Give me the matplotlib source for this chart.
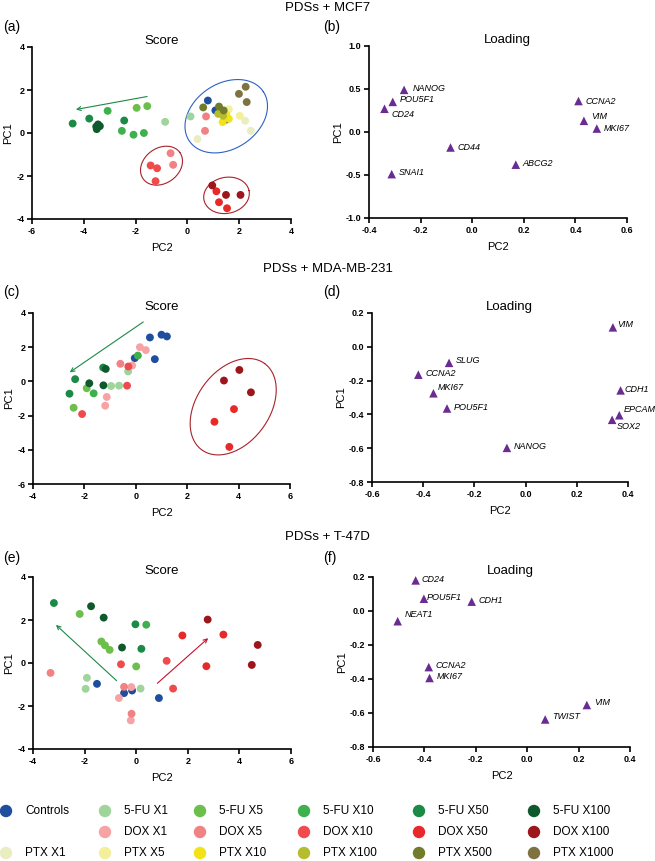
import numpy as np
import matplotlib
matplotlib.use('Agg')
from matplotlib import pyplot as plt

plt.rcParams['font.family'] = ['Liberation Sans', 'DejaVu Sans']
plt.rcParams['axes.unicode_minus'] = False

# groups and colours (legend order)
groups = ['Controls', '5-FU X1', '5-FU X5', '5-FU X10', '5-FU X50', '5-FU X100',
          'DOX X1', 'DOX X5', 'DOX X10', 'DOX X50', 'DOX X100',
          'PTX X1', 'PTX X5', 'PTX X10', 'PTX X100', 'PTX X500', 'PTX X1000']
group_colors = ['#1f4e9e', '#9fd49a', '#6cbf4a', '#3fb04e', '#1c8a47', '#0f5a2c',
                '#f7a3a6', '#f08283', '#ef4b4d', '#e8292a', '#9c161c',
                '#e9edbf', '#f4ef9b', '#f2e316', '#b5bd2e', '#727a2c', '#7e7240']

# (a) PDSs + MCF7 score
mcf7_grp = ['Controls'] * 3 + ['5-FU X1'] * 2 + ['5-FU X5'] * 2 + ['5-FU X10'] * 4 + ['5-FU X50'] * 3 + \
           ['5-FU X100'] * 4 + ['DOX X5'] * 4 + ['DOX X10'] * 3 + ['DOX X50'] * 3 + ['DOX X100'] * 3 + \
           ['PTX X1'] * 3 + ['PTX X5'] * 2 + ['PTX X10'] * 3 + ['PTX X100'] * 3 + ['PTX X500'] * 3 + ['PTX X1000'] * 3
mcf7_pc2 = [0.79, 1.08, 1.48, -0.86, 0.12, -1.96, -1.55, -3.08, -2.53, -2.08, -1.68, -4.43, -3.79, -2.44,
            -3.50, -3.38, -3.45, -3.52, 0.72, 0.68, -0.65, -0.55, -1.42, -1.17, -1.23, 1.12, 1.22, 1.53,
            0.96, 1.49, 2.05, 2.23, 2.45, 0.39, 1.60, 2.02, 1.60, 1.36, 1.50, 1.19, 1.38, 1.30,
            0.61, 1.22, 1.40, 1.99, 2.25, 2.29]
mcf7_pc1 = [1.51, 1.05, 0.62, 0.52, 0.77, 1.17, 1.25, 1.03, 0.10, -0.08, 0.00, 0.44, 0.67, 0.58,
            0.18, 0.32, 0.40, 0.30, 0.77, 0.10, -0.94, -1.48, -1.51, -1.64, -2.24, -2.71, -3.22, -3.50,
            -2.44, -2.88, -2.88, 0.57, 0.10, -0.28, 1.10, 0.80, 0.66, 0.51, 0.85, 0.89, 0.80, 0.95,
            1.19, 1.23, 1.05, 1.82, 2.15, 1.44]

# (c) PDSs + MDA-MB-231 score
mda_grp = ['Controls'] * 5 + ['5-FU X1'] * 3 + ['5-FU X5'] * 2 + ['5-FU X10'] * 2 + ['5-FU X50'] * 3 + \
          ['5-FU X100'] * 3 + ['DOX X1'] * 5 + ['DOX X5'] * 1 + ['DOX X10'] * 3 + ['DOX X50'] * 3 + ['DOX X100'] * 3
mda_pc2 = [0.55, 1.00, 1.21, 0.74, -0.04, -0.30, -0.96, -0.65, -1.91, -2.42, 0.08, -1.64,
           -1.27, -2.36, -2.58, -1.17, -1.81, -1.26, 0.16, 0.39, -0.14, -1.13, -1.19, -0.60,
           -0.29, -0.34, -2.09, 3.82, 3.06, 3.64, 3.43, 4.03, 4.48]
mda_pc1 = [2.57, 2.73, 2.63, 1.30, 1.36, 0.58, -0.27, -0.25, -0.40, -1.54, 1.51, -0.70,
           0.81, 0.13, -0.72, 0.73, -0.11, -0.23, 2.00, 1.83, 0.93, -0.91, -1.42, 1.03,
           0.87, -0.25, -1.91, -1.62, -2.36, -3.83, 0.05, 0.67, -0.64]

# (e) PDSs + T-47D score
t47d_grp = ['Controls'] * 4 + ['5-FU X1'] * 3 + ['5-FU X5'] * 5 + ['5-FU X10'] * 1 + ['5-FU X50'] * 3 + \
           ['5-FU X100'] * 3 + ['DOX X1'] * 3 + ['DOX X5'] * 3 + ['DOX X10'] * 3 + ['DOX X50'] * 3 + ['DOX X100'] * 3
t47d_pc2 = [-1.52, -0.47, -0.16, 0.88, -1.91, -1.96, 0.17, -2.19, -1.35, -1.21, -1.03, 0.00, 0.39,
            -3.19, 0.20, -0.03, -1.75, -1.26, -0.55, -0.19, -0.67, -0.21, -3.32, -0.18, -0.47,
            -0.59, 1.18, 1.43, 1.79, 3.38, 2.72, 2.77, 4.71, 4.48]
t47d_pc1 = [-0.97, -1.40, -1.28, -1.63, -0.69, -1.20, -1.19, 2.28, 1.00, 0.82, 0.61, -0.16, 1.78,
            2.79, 0.66, 1.80, 2.64, 2.11, 0.72, -1.12, -1.63, -2.67, -0.46, -2.36, -1.11,
            -0.06, 0.10, -1.19, 1.28, 1.32, -0.15, 2.02, 0.84, -0.09]

# loadings
mcf7_genes = ['NANOG', 'POU5F1', 'CD24', 'CCNA2', 'VIM', 'MKI67', 'CD44', 'ABCG2', 'SNAI1']
mcf7_load_pc2 = [-0.264, -0.308, -0.340, 0.412, 0.433, 0.483, -0.084, 0.169, -0.312]
mcf7_load_pc1 = [0.49, 0.35, 0.27, 0.36, 0.13, 0.04, -0.18, -0.38, -0.49]

mda_genes = ['VIM', 'SLUG', 'CCNA2', 'MKI67', 'POU5F1', 'CDH1', 'EPCAM', 'SOX2', 'NANOG']
mda_load_pc2 = [0.341, -0.299, -0.419, -0.360, -0.307, 0.371, 0.366, 0.338, -0.073]
mda_load_pc1 = [0.115, -0.095, -0.165, -0.275, -0.365, -0.258, -0.405, -0.432, -0.598]

t47d_genes = ['CD24', 'POU5F1', 'CDH1', 'NEAT1', 'CCNA2', 'MKI67', 'VIM', 'TWIST']
t47d_load_pc2 = [-0.434, -0.402, -0.216, -0.504, -0.383, -0.380, 0.232, 0.070]
t47d_load_pc1 = [0.180, 0.072, 0.055, -0.060, -0.330, -0.394, -0.553, -0.638]

W, H = 655, 861
fig = plt.figure(figsize=(W / 100, H / 100), dpi=100)


def style_axes(ax, xticks, yticks, fmt):
    ax.set_xlim(xticks[0], xticks[-1])
    ax.set_ylim(yticks[0], yticks[-1])
    ax.set_xticks(xticks, labels=[fmt % v for v in xticks], fontweight='bold', fontsize=6.5)
    ax.set_yticks(yticks, labels=[fmt % v for v in yticks], fontweight='bold', fontsize=6.5)
    for s in ['top', 'right']:
        ax.spines[s].set_visible(False)
    for s in ['left', 'bottom']:
        ax.spines[s].set_linewidth(1.2)
    ax.tick_params(width=1.2, length=3.5, pad=2)
    ax.set_xlabel('PC2', fontsize=8, labelpad=5)
    ax.set_ylabel('PC1', fontsize=8, labelpad=2)


def ellipse(ax, cx, cy, a, b, theta, color):
    # a, b in pixels so the shape matches the on-screen tilt
    pos = ax.get_position()
    x0, x1 = ax.get_xlim()
    y0, y1 = ax.get_ylim()
    sx = W * pos.width / (x1 - x0)
    sy = H * pos.height / (y1 - y0)
    t = np.linspace(0, 2 * np.pi, 200)
    th = np.radians(theta)
    dx = a * np.cos(t) * np.cos(th) - b * np.sin(t) * np.sin(th)
    dy = a * np.cos(t) * np.sin(th) + b * np.sin(t) * np.cos(th)
    ax.plot(cx + dx / sx, cy + dy / sy, color=color, lw=0.8, zorder=1)


def arrow(ax, start, end, color):
    ax.annotate('', xy=end, xytext=start,
                arrowprops=dict(arrowstyle='->', color=color, lw=0.8, mutation_scale=7))


def score_panel(pos, pc2, pc1, grp, xticks, yticks):
    ax = fig.add_axes(pos)
    style_axes(ax, xticks, yticks, '%d')
    for g, c in zip(groups, group_colors):
        xs = [x for x, gg in zip(pc2, grp) if gg == g]
        ys = [y for y, gg in zip(pc1, grp) if gg == g]
        if xs:
            ax.scatter(xs, ys, s=32, color=c, edgecolors='none', zorder=3, clip_on=False)
    ax.set_title('Score', fontsize=9.5, pad=1)
    return ax


def loading_panel(pos, genes, pc2, pc1, offsets, xticks, yticks):
    ax = fig.add_axes(pos)
    style_axes(ax, xticks, yticks, '%.1f')
    ax.scatter(pc2, pc1, marker='^', s=38, color='#6a2c91', edgecolors='none', zorder=3, clip_on=False)
    for g, x, y, off in zip(genes, pc2, pc1, offsets):
        ax.annotate(g, (x, y), xytext=off, textcoords='offset points', fontsize=6.5,
                    style='italic', ha='left', va='center')
    ax.set_title('Loading', fontsize=9.5, pad=1, x=0.535)
    return ax


ax_a = score_panel([32 / W, 1 - 219 / H, 259 / W, 172 / H], mcf7_pc2, mcf7_pc1, mcf7_grp,
                   [-6, -4, -2, 0, 2, 4], [-4, -2, 0, 2, 4])
ellipse(ax_a, 1.50, 0.78, 44.5, 32.7, 33.5, '#2d62c4')
ellipse(ax_a, -1.00, -1.52, 22.6, 17.6, 36, '#a8232a')
ellipse(ax_a, 1.51, -2.90, 23, 18, 12, '#a8232a')
arrow(ax_a, (-1.45, 1.72), (-4.41, 1.07), '#1c8a47')

ax_b = loading_panel([369 / W, 1 - 218 / H, 258 / W, 172 / H], mcf7_genes, mcf7_load_pc2, mcf7_load_pc1,
                     [(6, 1), (5, 2), (5, -4), (5, 0), (5, 3), (5, 0), (5, 0), (5, 1), (5, 1)],
                     [-0.4, -0.2, 0.0, 0.2, 0.4, 0.6], [-1.0, -0.5, 0.0, 0.5, 1.0])

ax_c = score_panel([33 / W, 1 - 484 / H, 257 / W, 171 / H], mda_pc2, mda_pc1, mda_grp,
                   [-4, -2, 0, 2, 4, 6], [-6, -4, -2, 0, 2, 4])
ellipse(ax_c, 3.79, -1.48, 53.4, 36.4, 54, '#a8232a')
arrow(ax_c, (0.38, 3.57), (-2.66, 0.44), '#1c8a47')

ax_d = loading_panel([372 / W, 1 - 482 / H, 256 / W, 169 / H], mda_genes, mda_load_pc2, mda_load_pc1,
                     [(3, 2), (5, 2), (5, 1), (3, 4), (5, 1), (3, 1), (3, 4), (3, -5), (5, 1)],
                     [-0.6, -0.4, -0.2, 0.0, 0.2, 0.4], [-0.8, -0.6, -0.4, -0.2, 0.0, 0.2])

ax_e = score_panel([33 / W, 1 - 749 / H, 258 / W, 172 / H], t47d_pc2, t47d_pc1, t47d_grp,
                   [-4, -2, 0, 2, 4, 6], [-4, -2, 0, 2, 4])
arrow(ax_e, (-0.68, -0.91), (-3.19, 1.86), '#1c8a47')
arrow(ax_e, (0.74, -1.03), (2.87, 1.24), '#c8102e')

ax_f = loading_panel([373 / W, 1 - 747 / H, 257 / W, 170 / H], t47d_genes, t47d_load_pc2, t47d_load_pc1,
                     [(4, 1), (2, 1), (5, 1), (5, 5), (5, 1), (5, 1), (5, 2), (5, 2)],
                     [-0.6, -0.4, -0.2, 0.0, 0.2, 0.4], [-0.8, -0.6, -0.4, -0.2, 0.0, 0.2])

# row titles and panel letters
for ytxt, txt in [(8, 'PDSs + MCF7'), (269, 'PDSs + MDA-MB-231'), (537, 'PDSs + T-47D')]:
    fig.text(0.5, 1 - ytxt / H, txt, ha='center', va='center', fontsize=9.5)
for xtxt, ytxt, txt in [(3, 27, '(a)'), (323, 27, '(b)'), (3, 292, '(c)'), (323, 292, '(d)'),
                        (3, 558, '(e)'), (323, 558, '(f)')]:
    fig.text(xtxt / W, 1 - ytxt / H, txt, ha='left', va='center', fontsize=10)

# legend grid: column, row for each group
leg_col = [0, 1, 2, 3, 4, 5, 1, 2, 3, 4, 5, 0, 1, 2, 3, 4, 5]
leg_row = [0, 0, 0, 0, 0, 0, 1, 1, 1, 1, 1, 2, 2, 2, 2, 2, 2]
col_x = [6, 105, 200, 304, 419, 534]
row_y = [811, 832, 853]
lax = fig.add_axes([0, 0, 1, 1], facecolor='none')
lax.set_xlim(0, W)
lax.set_ylim(H, 0)
lax.axis('off')
for g, c, ci, ri in zip(groups, group_colors, leg_col, leg_row):
    lax.scatter(col_x[ci], row_y[ri], s=80, color=c, edgecolors='none')
    lax.text(col_x[ci] + 19, row_y[ri], g, ha='left', va='center', fontsize=8.5)

fig.savefig('out.png', dpi=100)
